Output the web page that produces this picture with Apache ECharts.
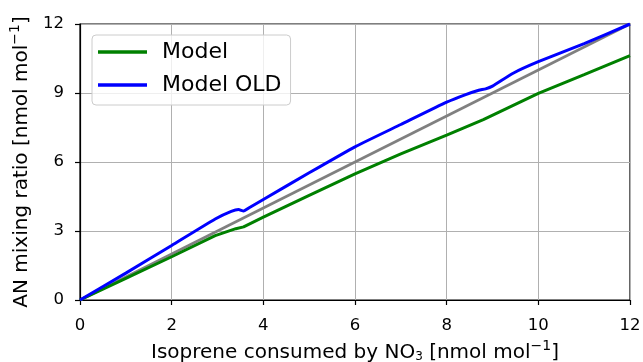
<!DOCTYPE html>
<html>
<head>
<meta charset="utf-8">
<script src="https://cdn.jsdelivr.net/npm/echarts@6/dist/echarts.min.js"></script>
<style>
  html, body { margin: 0; padding: 0; background: #ffffff; }
  #chart { width: 643px; height: 362px; }
</style>
</head>
<body>
<div id="chart"></div>
<script>
// Isoprene consumed by NO3 (x) vs. alkyl nitrate mixing ratio (y), nmol/mol
const modelX = [0, 1, 2, 2.95, 3.4, 3.57, 4, 5, 6, 7, 8, 8.8, 10, 11, 12];
const modelY = [0, 0.94, 1.88, 2.8, 3.1, 3.18, 3.6, 4.55, 5.48, 6.35, 7.17, 7.84, 8.98, 9.8, 10.63];

const oldX = [0, 1, 2, 2.95, 3.3, 3.46, 3.57, 3.7, 4, 5, 6, 7, 8, 8.4, 8.7, 8.85, 9, 9.45, 10, 11, 12];
const oldY = [0, 1.17, 2.37, 3.52, 3.85, 3.93, 3.87, 4.02, 4.37, 5.53, 6.66, 7.63, 8.6, 8.92, 9.12, 9.18, 9.3, 9.86, 10.36, 11.15, 12];

const refX = [0, 12];
const refY = [0, 12];

const xTicks = { min: 0, max: 12, interval: 2 };
const yTicks = { min: 0, max: 12, interval: 3 };

const pairs = (xs, ys) => xs.map((x, i) => [x, ys[i]]);

const FONT = 'DejaVu Sans';
const titleRich = {
  b: { fontFamily: FONT, fontSize: 20, color: '#000', lineHeight: 24, verticalAlign: 'bottom' },
  sub: { fontFamily: FONT, fontSize: 12, color: '#000', lineHeight: 24, verticalAlign: 'bottom' },
  sup: { fontFamily: FONT, fontSize: 14, color: '#000', lineHeight: 24, verticalAlign: 'top' }
};

const chart = echarts.init(document.getElementById('chart'), null, { renderer: 'canvas' });

chart.setOption({
  animation: false,
  backgroundColor: '#ffffff',
  grid: {
    left: 80, right: 13, top: 24, bottom: 62,
    outerBoundsMode: 'none',
    containLabel: false,
    show: true, borderColor: '#000', borderWidth: 1.2, backgroundColor: 'transparent'
  },
  legend: {
    data: ['Model', 'Model OLD'],
    orient: 'vertical',
    left: 92, top: 35,
    icon: 'rect',
    itemWidth: 49, itemHeight: 3.5,
    itemGap: 9,
    padding: [5, 9, 8, 6],
    backgroundColor: 'rgba(255,255,255,0.8)',
    borderColor: '#cccccc', borderWidth: 1, borderRadius: 4,
    textStyle: { fontFamily: FONT, fontSize: 22, color: '#000', lineHeight: 24, padding: [0, 0, 0, 10] }
  },
  xAxis: {
    type: 'value',
    min: xTicks.min, max: xTicks.max, interval: xTicks.interval,
    name: '{b|Isoprene consumed by NO}{sub|3}{b| [nmol mol}{sup|−1}{b|]}',
    nameLocation: 'middle', nameGap: 39,
    nameTextStyle: { rich: titleRich },
    axisLine: { lineStyle: { color: '#000', width: 1.2 } },
    axisTick: { show: true, inside: false, length: 5, lineStyle: { color: '#000', width: 1.2 } },
    axisLabel: { fontFamily: FONT, fontSize: 16.5, color: '#000', margin: 17 },
    splitLine: { show: true, lineStyle: { color: '#b0b0b0', width: 1 } }
  },
  yAxis: {
    type: 'value',
    min: yTicks.min, max: yTicks.max, interval: yTicks.interval,
    name: '{b|AN mixing ratio [nmol mol}{sup|−1}{b|]}',
    nameLocation: 'middle', nameGap: 45,
    nameTextStyle: { rich: titleRich },
    axisLine: { lineStyle: { color: '#000', width: 1.2 } },
    axisTick: { show: true, inside: false, length: 5, lineStyle: { color: '#000', width: 1.2 } },
    axisLabel: { fontFamily: FONT, fontSize: 16.5, color: '#000', margin: 16 },
    splitLine: { show: true, lineStyle: { color: '#b0b0b0', width: 1 } }
  },
  series: [
    {
      name: '1:1', type: 'line', data: pairs(refX, refY),
      showSymbol: false, silent: true,
      lineStyle: { color: '#808080', width: 2.8 }, itemStyle: { color: '#808080' }
    },
    {
      name: 'Model', type: 'line', data: pairs(modelX, modelY),
      showSymbol: false,
      lineStyle: { color: '#008000', width: 3 }, itemStyle: { color: '#008000' }
    },
    {
      name: 'Model OLD', type: 'line', data: pairs(oldX, oldY),
      showSymbol: false, smooth: 0.15,
      lineStyle: { color: '#0000ff', width: 3 }, itemStyle: { color: '#0000ff' }
    }
  ]
});
</script>
</body>
</html>
